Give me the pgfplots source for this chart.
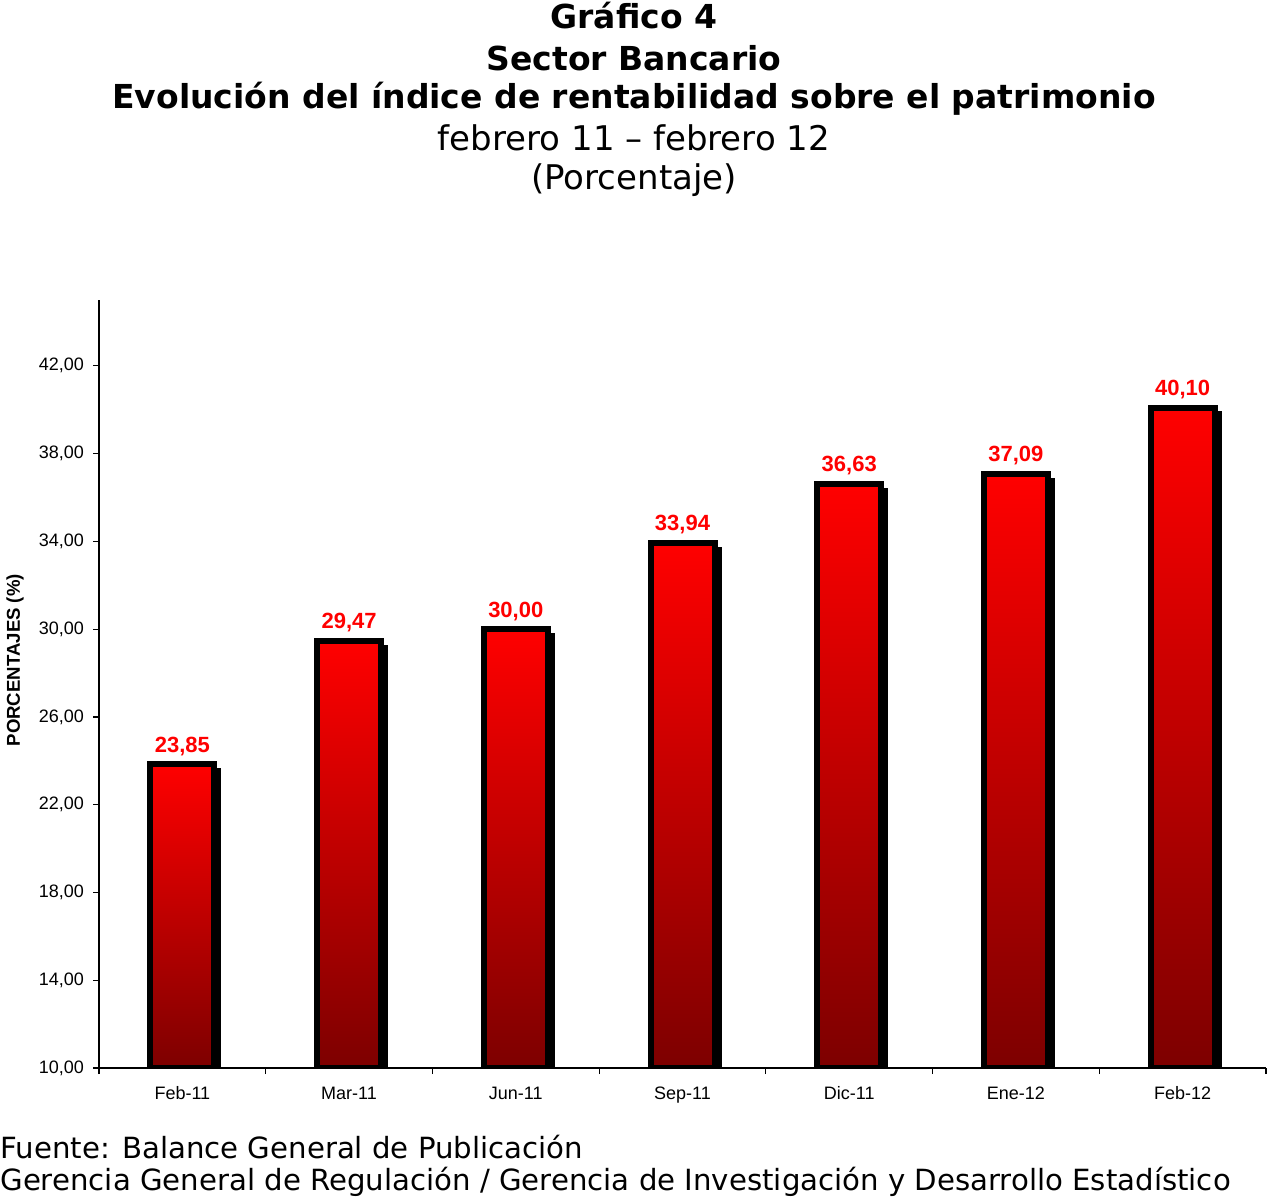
\documentclass[border=0pt]{standalone}
\usepackage{fontspec}
\setmainfont{DejaVu Sans}
\newfontfamily\arial{Liberation Sans}
\usepackage{pgfplots}
\pgfplotsset{compat=1.18}
\definecolor{barred}{RGB}{255,0,0}
\definecolor{bardark}{RGB}{125,0,0}
\definecolor{labred}{RGB}{255,0,0}
\begin{document}
\begin{tikzpicture}
\useasboundingbox (0,0) rectangle (633.5pt,599.5pt);
% titles
\node[font=\fontsize{16.5}{18}\selectfont\bfseries] at (317pt,591.5pt) {Gráfico 4};
\node[font=\fontsize{16.5}{18}\selectfont\bfseries] at (317pt,570.5pt) {Sector Bancario};
\node[font=\fontsize{16.5}{18}\selectfont\bfseries] at (317pt,550pt) {Evolución del índice de rentabilidad sobre el patrimonio};
\node[font=\fontsize{17}{18}\selectfont] at (317pt,530.5pt) {febrero 11 – febrero 12};
\node[font=\fontsize{17}{18}\selectfont] at (317pt,509.5pt) {(Porcentaje)};
% footnote
\node[anchor=west,inner sep=0pt,font=\fontsize{14.6}{16}\selectfont] at (0pt,26pt) {Fuente: Balance General de Publicación};
\node[anchor=west,inner sep=0pt,font=\fontsize{14.6}{16}\selectfont] at (0pt,8.5pt) {Gerencia General de Regulación / Gerencia de Investigación y Desarrollo Estadístico};
\begin{axis}[
  at={(49.5pt,65.5pt)}, anchor=south west,
  scale only axis, width=583.5pt, height=384pt,
  y coord trafo/.code={\pgfmathparse{#1-10}},
  y coord inv trafo/.code={\pgfmathparse{#1+10}},
  xmin=-0.5, xmax=6.5, ymin=10, ymax=45,
  axis x line=bottom, axis y line=left,
  axis line style={-, line width=0.6pt},
  tick align=outside,
  xtick={0,...,6},
  xticklabels={Feb-11,Mar-11,Jun-11,Sep-11,Dic-11,Ene-12,Feb-12},
  major x tick style={draw=none},
  minor xtick={-0.5,0.5,...,6.5},
  minor tick length=3pt,
  major tick length=3pt,
  tick style={black, line width=0.6pt},
  ytick={10,14,...,42},
  /pgf/number format/use comma,
  /pgf/number format/fixed,
  /pgf/number format/fixed zerofill,
  /pgf/number format/precision=2,
  /pgf/number format/assume math mode=true,
  ticklabel style={font=\arial\fontsize{9}{10}\selectfont},
  yticklabel style={xshift=-1pt},
  xticklabel style={yshift=-2pt, text height=7pt, text depth=0pt},
  ylabel={PORCENTAJES (\%)},
  every axis y label/.style={at={(rel axis cs:-0.072,0.531)}, rotate=90, anchor=center,
    font=\arial\bfseries\fontsize{9.3}{10}\selectfont},
  clip=true,
  shadow/.style={ybar, bar width=32pt, bar shift=3.5pt, fill=black, draw=none},
  mainbar/.style={ybar, bar width=32pt, bar shift=0pt, draw=black, line width=3pt,
    top color=barred, bottom color=bardark,
    point meta=rawy,
    nodes near coords={\pgfmathprintnumber{\pgfplotspointmeta}},
    nodes near coords style={font=\arial\bfseries\fontsize{11}{12}\selectfont, text=labred, anchor=south, yshift=-0.5pt}},
]
\addplot[shadow] coordinates {(0,23.67)};
\addplot[shadow] coordinates {(1,29.29)};
\addplot[shadow] coordinates {(2,29.82)};
\addplot[shadow] coordinates {(3,33.76)};
\addplot[shadow] coordinates {(4,36.45)};
\addplot[shadow] coordinates {(5,36.91)};
\addplot[shadow] coordinates {(6,39.92)};
\addplot[mainbar] coordinates {(0,23.85)};
\addplot[mainbar] coordinates {(1,29.47)};
\addplot[mainbar] coordinates {(2,30.00)};
\addplot[mainbar] coordinates {(3,33.94)};
\addplot[mainbar] coordinates {(4,36.63)};
\addplot[mainbar] coordinates {(5,37.09)};
\addplot[mainbar] coordinates {(6,40.10)};
\end{axis}
\end{tikzpicture}
\end{document}
